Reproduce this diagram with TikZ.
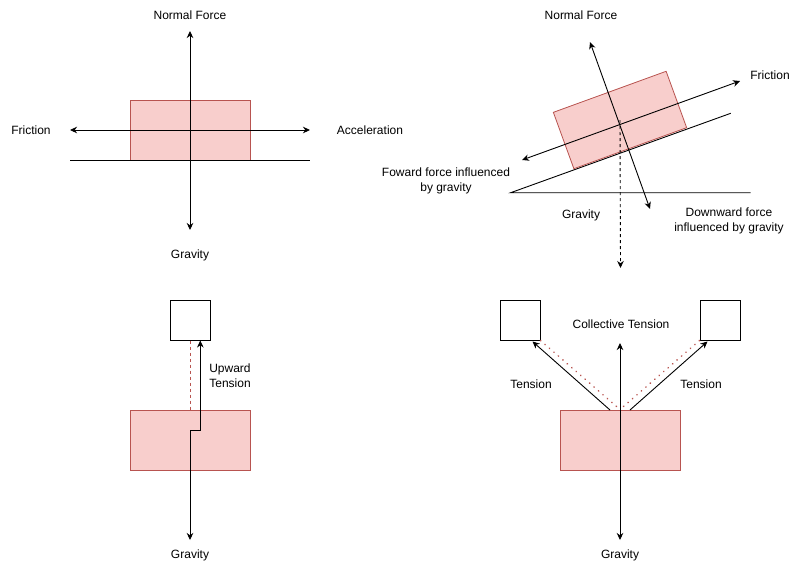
\documentclass[tikz,border=0pt]{standalone}
\usepackage{fontspec}
\setmainfont{Liberation Sans}
\usetikzlibrary{arrows.meta}
\definecolor{boxfill}{HTML}{F8CECC}
\definecolor{boxline}{HTML}{B85450}
\tikzset{
  block/.style={draw=boxline, fill=boxfill, line width=0.8pt, minimum width=120pt, minimum height=60pt, inner sep=0pt},
  sqbox/.style={draw=black, fill=white, line width=1pt, minimum width=40pt, minimum height=40pt, inner sep=0pt},
  lbl/.style={font=\fontsize{12}{14.5}\selectfont, align=center, inner sep=0pt},
  tip/.tip={Stealth[length=7pt,width=6.5pt,inset=2.2pt]},
  arr/.style={line width=0.9pt, -tip},
  darr/.style={line width=0.9pt, tip-tip},
  thinline/.style={line width=0.9pt},
  reddash/.style={draw=boxline, line width=0.9pt, dash pattern=on 3pt off 3pt},
  reddot/.style={draw=boxline, line width=1.6pt, line cap=round, dash pattern=on 0.3pt off 5.6pt},
}
\begin{document}
\begin{tikzpicture}[x=1pt,y=-1pt]
\useasboundingbox (0,0) rectangle (801,571);

% ---------- top-left: flat surface ----------
\node[block] (b1) at (190,130) {};
\coordinate (g1a) at (70,160);
\coordinate (g1b) at (310,160);
\draw[thinline] (g1a) -- (g1b);
\coordinate (n1) at (190,31);
\coordinate (w1) at (190,230);
\coordinate (f1) at (70,130);
\coordinate (a1) at (310,130);
\draw[darr] (f1) -- (a1);
\draw[darr] (n1) -- (w1);
\node[lbl] (t1n) at (190,15) {Normal Force};
\node[lbl] (t1f) at (31,130) {Friction};
\node[lbl] (t1a) at (370,130) {Acceleration};
\node[lbl] (t1g) at (190,255) {Gravity};

% ---------- top-right: inclined plane ----------
\coordinate (i0) at (510.7,192.7);
\coordinate (i1) at (730.7,113.3);
\coordinate (i2) at (750.7,192.7);
\draw[thinline] (i2) -- (i0) -- (i1);
\node[block, rotate=20] (b2) at (620,120) {};
\coordinate (n2a) at (590,42);
\coordinate (n2b) at (650,209);
\coordinate (f2a) at (522,160);
\coordinate (f2b) at (740,81);
\coordinate (g2) at (620.5,268);
\draw[line width=0.9pt, dash pattern=on 3pt off 3pt, -tip] (b2.center) -- (g2);
\draw[darr] (n2a) -- (n2b);
\draw[darr] (f2a) -- (f2b);
\node[lbl] (t2n) at (581,15) {Normal Force};
\node[lbl] (t2f) at (770,75) {Friction};
\node[lbl] (t2w) at (446,181) {Foward force influenced\\by gravity};
\node[lbl] (t2g) at (581,215) {Gravity};
\node[lbl] (t2d) at (729,221) {Downward force\\influenced by gravity};

% ---------- bottom-left: single tension ----------
\node[block] (b3) at (190,440) {};
\node[sqbox] (s3) at (190,320) {};
\draw[reddash] (s3.south) -- (b3.north);
\coordinate (g3) at (190,540);
\coordinate (k3a) at (190,430.5);
\coordinate (k3b) at (200.3,430.5);
\coordinate (u3) at (200.3,340.5);
\draw[line width=0.9pt, tip-tip] (g3) -- (k3a) -- (k3b) -- (u3);
\node[lbl] (t3u) at (230,375.5) {Upward\\Tension};
\node[lbl] (t3g) at (190,555) {Gravity};

% ---------- bottom-right: two tensions ----------
\node[block] (b4) at (620,440) {};
\node[sqbox] (s4l) at (520,320) {};
\node[sqbox] (s4r) at (720,320) {};
\coordinate (m4) at (620,409.5);
\draw[reddot] (s4l.south east) -- (m4);
\draw[reddot] (s4r.south west) -- (m4);
\coordinate (l4a) at (610,410);
\coordinate (l4b) at (532.5,341.5);
\coordinate (r4a) at (630,410);
\coordinate (r4b) at (707.5,341.5);
\draw[arr] (l4a) -- (l4b);
\draw[arr] (r4a) -- (r4b);
\coordinate (c4t) at (620,343);
\coordinate (c4b) at (620,540);
\draw[darr] (c4b) -- (c4t);
\node[lbl] (t4c) at (621,324.5) {Collective Tension};
\node[lbl] (t4l) at (531,384.5) {Tension};
\node[lbl] (t4r) at (701,384.5) {Tension};
\node[lbl] (t4g) at (620,555) {Gravity};
\end{tikzpicture}
\end{document}
